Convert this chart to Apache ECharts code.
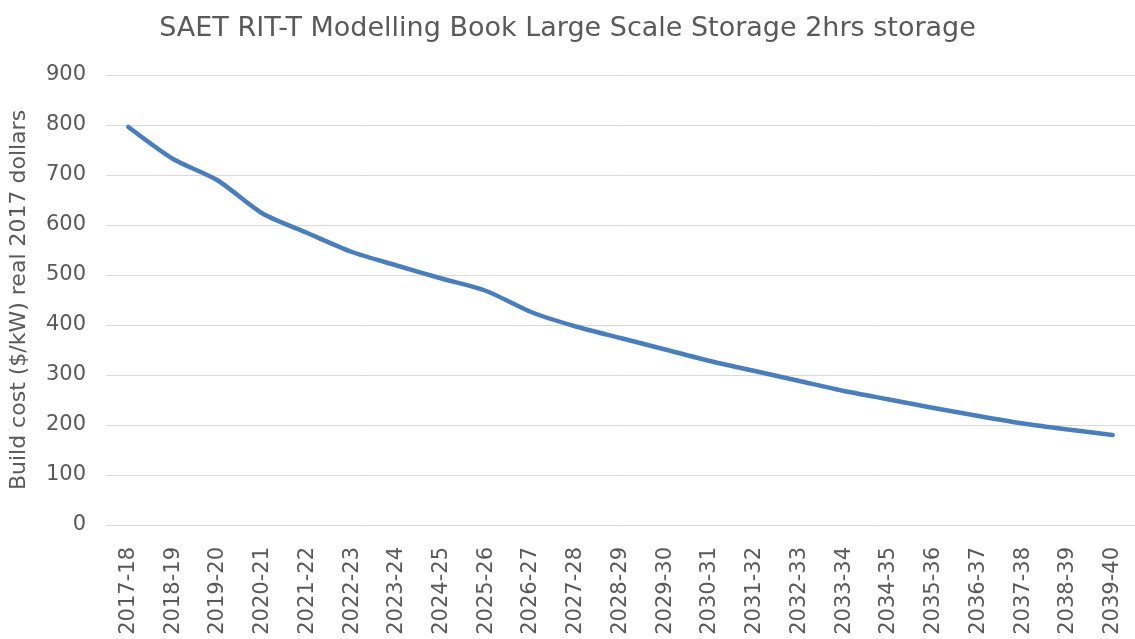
<!DOCTYPE html>
<html>
<head>
<meta charset="utf-8">
<script src="https://cdn.jsdelivr.net/npm/echarts@6/dist/echarts.min.js"></script>
<style>
  html, body { margin: 0; padding: 0; background: #fff; }
  #chart { width: 1135px; height: 639px; }
</style>
</head>
<body>
<div id="chart"></div>
<script>
// Financial years on the horizontal axis
const years = [
  '2017-18', '2018-19', '2019-20', '2020-21', '2021-22', '2022-23', '2023-24', '2024-25',
  '2025-26', '2026-27', '2027-28', '2028-29', '2029-30', '2030-31', '2031-32', '2032-33',
  '2033-34', '2034-35', '2035-36', '2036-37', '2037-38', '2038-39', '2039-40'
];

// Build cost, $/kW in real 2017 dollars
const buildCost = [
  796, 732, 689, 623, 584, 546, 519, 493,
  468, 426, 397, 374, 351, 328, 308, 288,
  268, 251, 234, 218, 203, 191, 180
];

const titleText = 'SAET RIT-T Modelling Book Large Scale Storage 2hrs storage';
const yAxisName = 'Build cost ($/kW) real 2017 dollars';

const textColor = '#595959';
const fontFamily = '"DejaVu Sans", sans-serif';

const chart = echarts.init(document.getElementById('chart'));
chart.setOption({
  backgroundColor: '#ffffff',
  animation: false,
  title: {
    text: titleText,
    left: 'center',
    top: 10,
    textStyle: { color: textColor, fontSize: 27, fontWeight: 'normal', fontFamily: fontFamily }
  },
  grid: { left: 106, right: 0, top: 75, bottom: 114 },
  xAxis: {
    type: 'category',
    data: years,
    boundaryGap: true,
    axisLine: { show: false },
    axisTick: { show: false },
    splitLine: { show: false },
    splitArea: { show: false },
    axisLabel: {
      rotate: 90,
      interval: 0,
      margin: 22,
      color: textColor,
      fontSize: 21,
      fontFamily: fontFamily
    }
  },
  yAxis: {
    type: 'value',
    min: 0,
    max: 900,
    interval: 100,
    name: yAxisName,
    nameLocation: 'middle',
    nameGap: 76,
    nameTextStyle: { color: textColor, fontSize: 22, fontFamily: fontFamily },
    axisLine: { show: false },
    axisTick: { show: false },
    axisLabel: { color: textColor, fontSize: 21, margin: 20, fontFamily: fontFamily },
    splitLine: { lineStyle: { color: '#d9d9d9', width: 1 } }
  },
  series: [{
    type: 'line',
    data: buildCost,
    smooth: 0.25,
    symbol: 'none',
    lineStyle: { color: '#4a7ebb', width: 4.5, cap: 'round' }
  }]
});
</script>
</body>
</html>
